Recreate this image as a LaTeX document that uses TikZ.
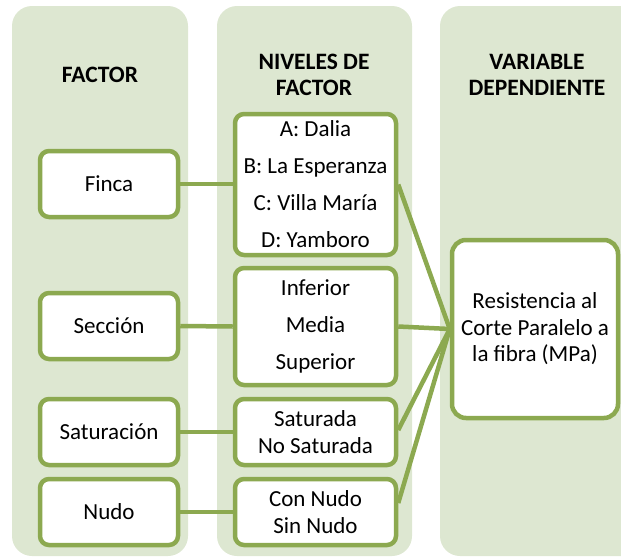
\documentclass[tikz,border=0pt]{standalone}
\usepackage{fontspec}
\setmainfont{Carlito}
\usepackage{xcolor}
\usepackage{tikz}
\usetikzlibrary{calc}

\definecolor{colbg}{HTML}{DDE7D1}
\definecolor{boxline}{HTML}{8CA950}

\tikzset{
  factorbox/.style={rectangle, draw=boxline, line width=4.5pt, fill=white, rounded corners=9pt, align=center, inner sep=0pt, font=\fontsize{23}{26.5}\selectfont},
  widebox/.style={factorbox, font=\fontsize{23}{37}\selectfont},
  header/.style={align=center, font=\bfseries\fontsize{23.5}{26.5}\selectfont},
  link/.style={draw=boxline, line width=4.5pt}
}

\begin{document}
\begin{tikzpicture}[x=1pt, y=-1pt]
\clip (0,0) rectangle (621,557);
\fill[color=colbg, rounded corners=20pt] (12,6) rectangle (188,556);
\fill[color=colbg, rounded corners=20pt] (217,6) rectangle (412,556);
\fill[color=colbg, rounded corners=20pt] (440,6) rectangle (680,556);

\node(h1)[header] at (100,75) {FACTOR};
\node(h2)[header] at (314,75) {NIVELES DE\\FACTOR};
\node(h3)[header] at (537,75) {VARIABLE\\DEPENDIENTE};

\node(finca)[factorbox, minimum width=138pt, minimum height=66pt] at (109,184) {Finca};
\node(seccion)[factorbox, minimum width=138pt, minimum height=66pt] at (109,326) {Sección};
\node(satur)[factorbox, minimum width=138pt, minimum height=66pt] at (109,432) {Saturación};
\node(nudo)[factorbox, minimum width=138pt, minimum height=66pt] at (109,512) {Nudo};

\node(niv1)[widebox, minimum width=161pt, minimum height=141pt] at (315.5,184.5) {A: Dalia\\B: La Esperanza\\C: Villa María\\D: Yamboro};
\node(niv2)[widebox, minimum width=161pt, minimum height=117pt] at (315.5,326.5) {Inferior\\Media\\Superior};
\node(niv3)[factorbox, minimum width=161pt, minimum height=66pt] at (315.5,432) {Saturada\\No Saturada};
\node(niv4)[factorbox, minimum width=161pt, minimum height=66pt] at (315.5,512) {Con Nudo\\Sin Nudo};

\node(resist)[factorbox, minimum width=166pt, minimum height=178pt, rounded corners=14pt] at (535,329) {Resistencia al\\Corte Paralelo a\\la fibra (MPa)};

\draw[link] (finca.east) -- (finca.east -| niv1.west);
\draw[link] (seccion.east) -- (niv2.west);
\draw[link] (satur.east) -- (niv3.west);
\draw[link] (nudo.east) -- (niv4.west);
\draw[link] (niv1.east) -- (resist.west);
\draw[link] (niv2.east) -- (resist.west);
\draw[link] ([yshift=2pt]niv3.east) -- (resist.west);
\draw[link] ([yshift=9pt]niv4.east) -- (resist.west);
\end{tikzpicture}
\end{document}
